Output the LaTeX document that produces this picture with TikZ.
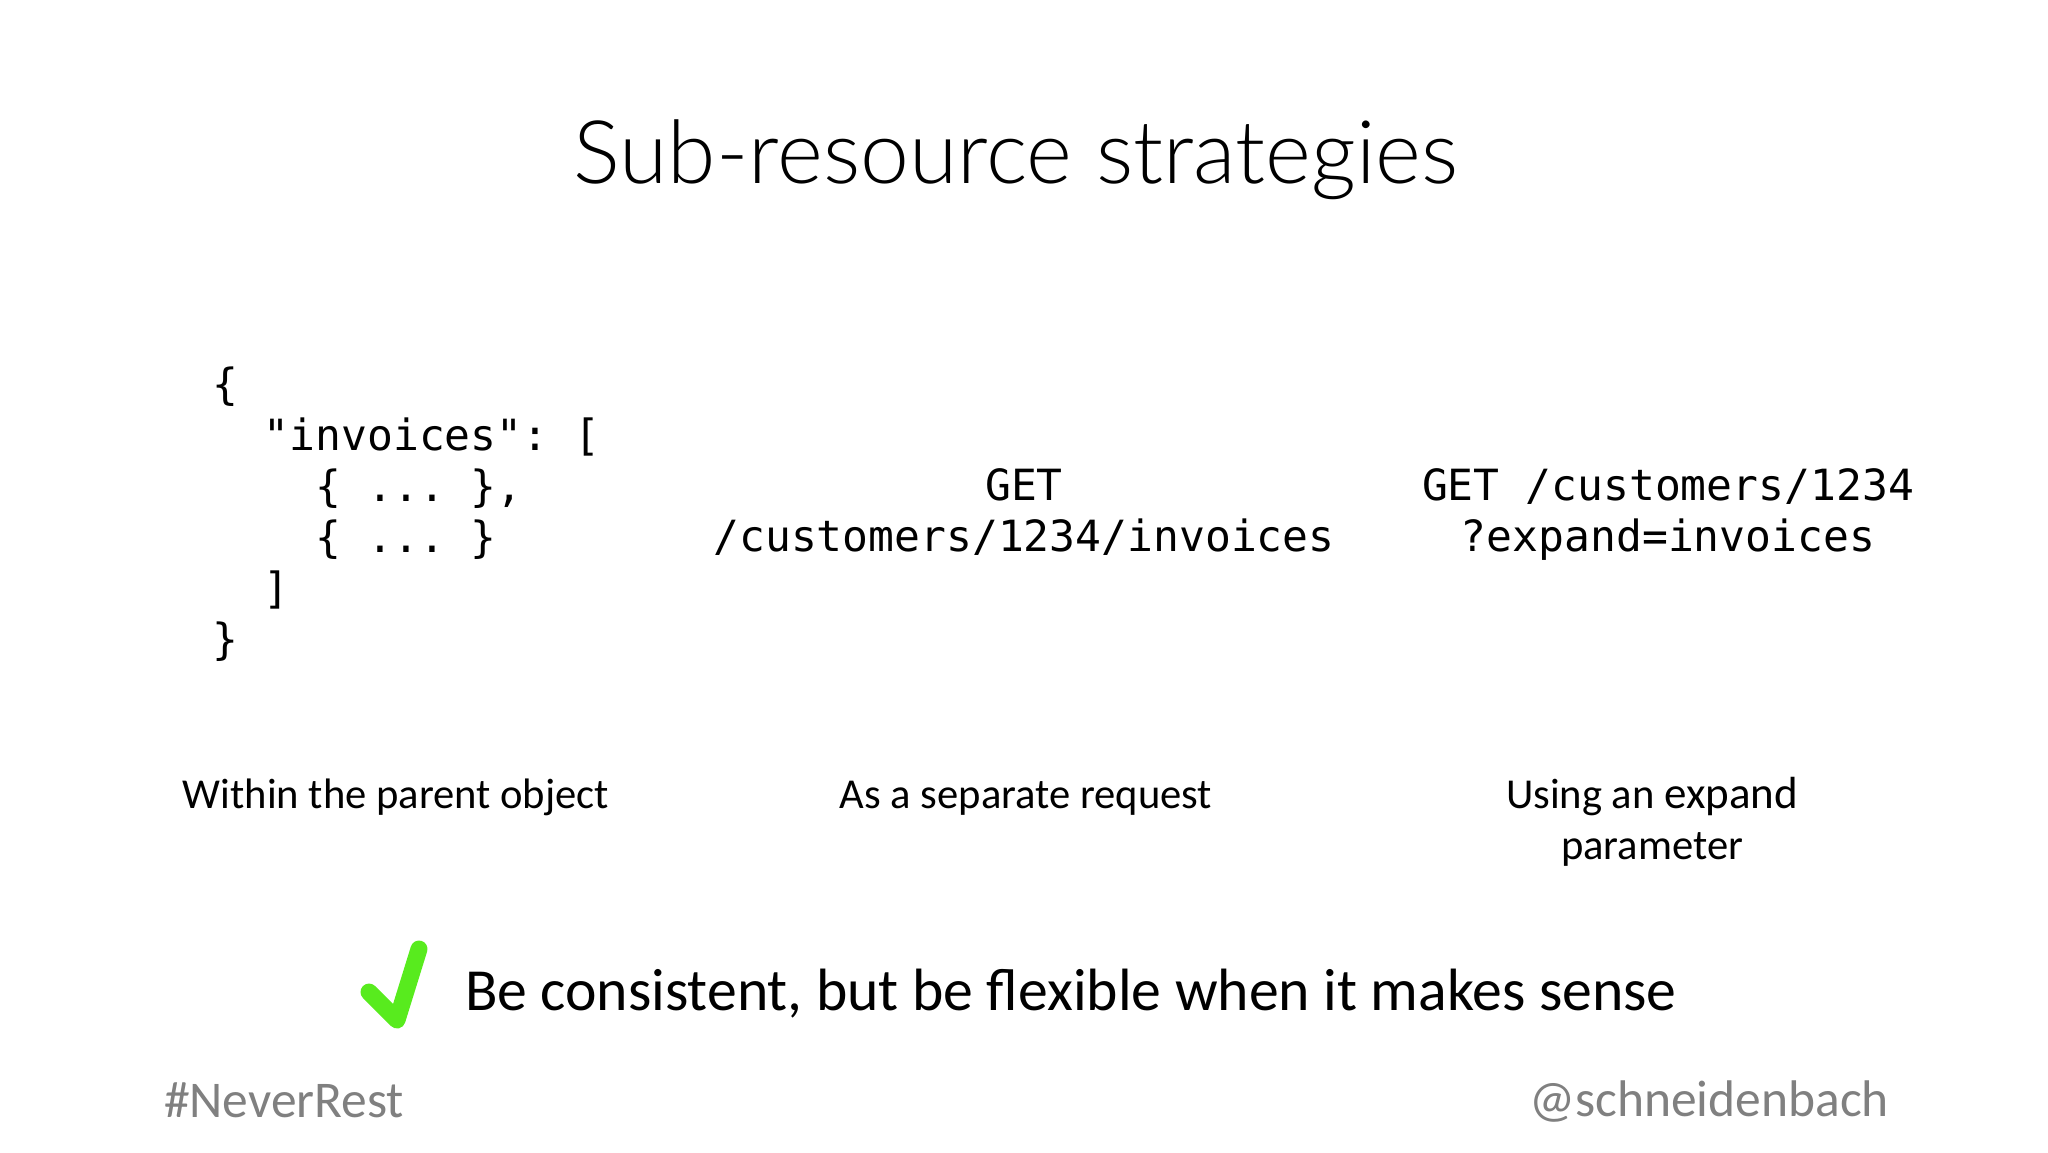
\documentclass[tikz,border=0pt]{standalone}
\usepackage{fontspec}
\setmainfont{Carlito}
\setmonofont{DejaVu Sans Mono}
\newfontfamily\titlefont{Lato Light}
\usetikzlibrary{positioning}
\definecolor{tagGray}{RGB}{128,128,128}
\definecolor{checkGreen}{RGB}{88,235,30}
\begin{document}
\begin{tikzpicture}[
            x = 1pt, y = -1pt,
            every node/.style={inner sep=0pt, outer sep=0pt},
            code/.style={font=\fontsize{43}{51}\ttfamily, align=left},
            codemid/.style={font=\fontsize{43}{51}\ttfamily, align=center},
            caption/.style={font=\fontsize{42.6}{51}\selectfont, align=center},
            tag/.style={font=\fontsize{51.5}{58}\selectfont, text=tagGray},
            ]
        \useasboundingbox (0, 0) rectangle (2048, 1152);

        \node[font=\fontsize{87.7}{100}\titlefont] (title) at (1016, 160) {Sub-resource strategies};

        \node[code, anchor=north west] (parent) at (212, 367) {\{\\\ \ "invoices": [\\\ \ \ \ \{ ... \},\\\ \ \ \ \{ ... \}\\\ \ ]\\\}};
        \node[codemid] (separate) at (1024, 512) {GET\\/customers/1234/invoices};
        \node[codemid] (expand) at (1668, 515) {GET /customers/1234\\?expand=invoices};

        \node[caption] (parentcap) at (396, 797) {Within the parent object};
        \node[caption] (separatecap) at (1026, 798) {As a separate request};
        \node[caption] (expandcap) at (1652, 822) {Using an {\fontsize{45}{51}\selectfont expand}\\parameter};

        \node[font=\fontsize{59.7}{60}\selectfont, anchor=west] (advice) at (465, 994) {Be consistent, but be flexible when it makes sense};
        \draw[checkGreen, line width=17pt, line cap=round, line join=round] (369, 992) -- (397, 1020) -- (419, 949);

        \node[tag, anchor=west] (hashtag) at (164, 1100) {\#NeverRest};
        \node[tag, anchor=east] (handle) at (1889, 1102) {@schneidenbach};
    \end{tikzpicture}
\end{document}
